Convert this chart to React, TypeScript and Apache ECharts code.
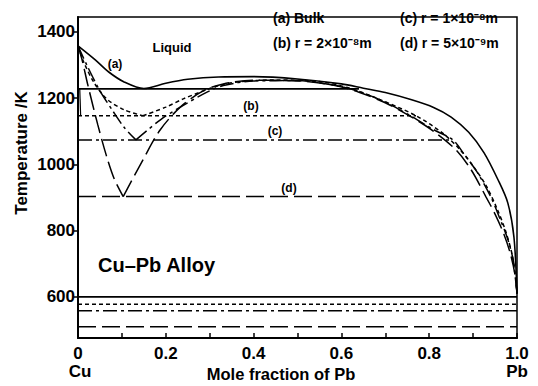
import React, { useEffect, useRef } from "react";
import * as echarts from "echarts";

// ---- data (mole fraction of Pb, temperature K) ----
const curveA = [[0, 1358], [0.04, 1315], [0.07, 1279], [0.105, 1249], [0.15, 1229], [0.2, 1245], [0.25, 1257], [0.32, 1264], [0.4, 1265], [0.5, 1258], [0.6, 1243], [0.65, 1230], [0.7, 1217], [0.76, 1195], [0.81, 1172], [0.85, 1143], [0.89, 1097], [0.925, 1035], [0.957, 953], [0.979, 884], [0.993, 781], [1.0, 610]];
const curveBLeft = [[0, 1358], [0.014, 1306], [0.037, 1246], [0.066, 1197], [0.105, 1165], [0.148, 1147]];
const curveBRight = [[0.148, 1147], [0.2, 1173], [0.24, 1198], [0.28, 1219], [0.32, 1238], [0.37, 1250], [0.45, 1255], [0.55, 1250], [0.614, 1232], [0.68, 1200], [0.77, 1147], [0.83, 1095], [0.87, 1045], [0.9, 995], [0.93, 935], [0.955, 865], [0.975, 795], [0.99, 720], [1.0, 610]];
const curveCLeft = [[0, 1358], [0.02, 1300], [0.05, 1222], [0.08, 1160], [0.105, 1112], [0.132, 1074]];
const curveCRight = [[0.132, 1074], [0.187, 1134], [0.233, 1173], [0.295, 1219], [0.331, 1238], [0.4, 1252], [0.5, 1253], [0.58, 1240], [0.64, 1220], [0.7, 1188], [0.76, 1145], [0.81, 1105], [0.854, 1074], [0.88, 1030], [0.91, 975], [0.94, 903], [0.96, 840], [0.98, 770], [0.993, 700], [1.0, 610]];
const curveDLeft = [[0, 1358], [0.01, 1312], [0.022, 1242], [0.045, 1120], [0.065, 1025], [0.083, 955], [0.103, 903]];
const curveDRight = [[0.103, 903], [0.148, 1014], [0.187, 1104], [0.233, 1173], [0.285, 1222], [0.331, 1243], [0.4, 1254], [0.5, 1252], [0.58, 1240], [0.64, 1218], [0.7, 1186], [0.76, 1143], [0.81, 1100], [0.86, 1045], [0.895, 985], [0.929, 903], [0.95, 850], [0.97, 790], [0.985, 730], [0.995, 670], [1.0, 610]];
const monotecticA = [[0, 1228], [0.64, 1228]];
const monotecticB = [[0, 1147], [0.77, 1147]];
const monotecticC = [[0, 1074], [0.854, 1074]];
const monotecticD = [[0, 903], [0.929, 903]];
const eutecticA = [[0, 600], [1, 600]];
const eutecticB = [[0, 578], [1, 578]];
const eutecticC = [[0, 558], [1, 558]];
const eutecticD = [[0, 510], [1, 510]];
const solvusCu = [[0.004, 1228], [0.006, 1147]];
const yTicks = [600, 800, 1000, 1200, 1400];
const legendTexts = ["(a) Bulk", "(b) r = 2×10⁻⁸m", "(c) r = 1×10⁻⁸m", "(d) r = 5×10⁻⁹m"];

const FONT = '"Liberation Sans", Arial, sans-serif';
const BLACK = "#000";

const STYLE_A = { type: "solid" as any, width: 1.6 };
const STYLE_B = { type: [4, 3] as any, width: 1.5 };
const STYLE_C = { type: [14, 4, 3, 4] as any, width: 1.5 };
const STYLE_D = { type: [18, 6] as any, width: 1.5 };

function line(data: number[][], style: any, smooth = true) {
  return {
    type: "line",
    data,
    showSymbol: false,
    symbol: "none",
    smooth: smooth ? 0.3 : false,
    lineStyle: { color: BLACK, ...style },
    silent: true,
  };
}

function label(x: number, y: number, text: string, size = 13, align = "center") {
  return {
    type: "text",
    x,
    y,
    style: {
      text,
      fill: BLACK,
      font: `bold ${size}px ${FONT}`,
      align,
      verticalAlign: "middle",
    },
  };
}

export default function App() {
  const ref = useRef<HTMLDivElement>(null);
  useEffect(() => {
    if (!ref.current) return;
    const chart = echarts.init(ref.current, undefined, { renderer: "svg" });
    chart.setOption({
      animation: false,
      backgroundColor: "#fff",
      grid: { left: 78, right: 21, top: 17, bottom: 48, show: true, borderColor: BLACK, borderWidth: 1.5, backgroundColor: "transparent" },
      xAxis: {
        type: "value",
        min: 0,
        max: 1,
        interval: 0.2,
        axisLine: { lineStyle: { color: BLACK, width: 2 } },
        axisTick: { inside: true, length: 5, lineStyle: { color: BLACK, width: 1.5 } },
        minorTick: { show: true, splitNumber: 2, length: 5, lineStyle: { color: BLACK, width: 1.5 } },
        splitLine: { show: false },
        axisLabel: {
          margin: 7,
          color: BLACK,
          fontSize: 17,
          fontWeight: "bold",
          fontFamily: FONT,
          formatter: (v: number) => (v === 0 ? "0" : v.toFixed(1)),
        },
      },
      yAxis: {
        type: "value",
        min: 476,
        max: 1445,
        axisLine: { show: true, lineStyle: { color: BLACK, width: 2 } },
        axisTick: { show: true, inside: false, length: 4, customValues: yTicks, lineStyle: { color: BLACK, width: 1.5 } },
        splitLine: { show: false },
        axisLabel: {
          margin: 3,
          color: BLACK,
          fontSize: 17,
          fontWeight: "bold",
          fontFamily: FONT,
          customValues: yTicks,
          formatter: (v: number) => String(v),
        },
      },
      series: [
        line(curveA, STYLE_A),
        line(curveBLeft, STYLE_B),
        line(curveBRight, STYLE_B),
        line(curveCLeft, STYLE_C),
        line(curveCRight, STYLE_C),
        line(curveDLeft, STYLE_D),
        line(curveDRight, STYLE_D),
        line(monotecticA, STYLE_A, false),
        line(monotecticB, STYLE_B, false),
        line(monotecticC, STYLE_C, false),
        line(monotecticD, STYLE_D, false),
        line(eutecticA, STYLE_A, false),
        line(eutecticB, STYLE_B, false),
        line(eutecticC, STYLE_C, false),
        line(eutecticD, STYLE_D, false),
        line(solvusCu, { type: "solid", width: 1.2 }, false),
      ],
      graphic: [
        label(273, 18, legendTexts[0], 14, "left"),
        label(273, 43, legendTexts[1], 14, "left"),
        label(400, 18, legendTexts[2], 14, "left"),
        label(400, 43, legendTexts[3], 14, "left"),
        label(172, 47, "Liquid", 13),
        label(115, 64, "(a)", 12),
        label(251, 106, "(b)", 12),
        label(275, 131, "(c)", 12),
        label(289, 188, "(d)", 12),
        label(98, 265, "Cu–Pb Alloy", 20, "left"),
        label(80, 371, "Cu", 17),
        label(281, 374, "Mole fraction of Pb", 16.5),
        label(517, 371, "Pb", 17),
        {
          type: "text",
          x: 21,
          y: 153,
          rotation: Math.PI / 2,
          style: {
            text: "Temperature /K",
            fill: BLACK,
            font: `bold 17px ${FONT}`,
            align: "center",
            verticalAlign: "middle",
          },
        },
      ],
    });
    return () => chart.dispose();
  }, []);
  return <div ref={ref} style={{ position: "fixed", left: 0, top: 0, width: 538, height: 386, background: "#fff" }} />;
}
